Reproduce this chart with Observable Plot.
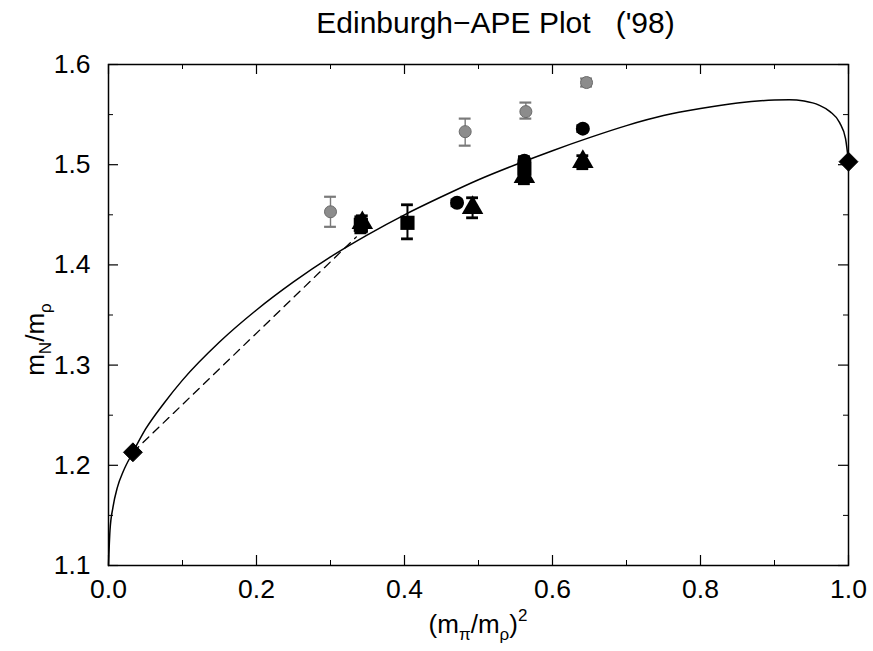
<!DOCTYPE html>
<html>
<head>
<meta charset="utf-8">
<script src="https://cdn.jsdelivr.net/npm/d3@7"></script>
<script src="https://cdn.jsdelivr.net/npm/@observablehq/plot@0.6"></script>
<style>
  body { margin: 0; background: #fff; font-family: "Liberation Sans", Arial, sans-serif; }
  #wrap { width: 873px; height: 651px; position: relative; }
  #title { height: 46px; width: 873px; box-sizing: border-box; padding-left: 118px; text-align: center;
           font-size: 30px; line-height: 46px; color: #000; white-space: pre; }
</style>
</head>
<body>
<div id="wrap">
  <div id="title">Edinburgh−APE Plot   ('98)</div>
  <div id="chart"></div>
</div>
<script>
// Fit curve (solid)
const curveX = [0, 0.002, 0.006, 0.012, 0.020, 0.033, 0.050, 0.075, 0.100, 0.150, 0.200, 0.250, 0.300, 0.350, 0.400, 0.450, 0.500, 0.550, 0.600, 0.650, 0.700, 0.750, 0.800, 0.850, 0.900, 0.920, 0.940, 0.960, 0.975, 0.988, 0.996, 1.0];
const curveY = [1.100, 1.135, 1.158, 1.178, 1.194, 1.213, 1.236, 1.262, 1.285, 1.323, 1.355, 1.383, 1.408, 1.430, 1.450, 1.468, 1.485, 1.500, 1.514, 1.527, 1.539, 1.549, 1.556, 1.5615, 1.5645, 1.5648, 1.5635, 1.5595, 1.553, 1.542, 1.526, 1.503];

// Dashed line
const dashX = [0.033, 0.335];
const dashY = [1.213, 1.428];

// Diamonds (physical point and heavy quark limit)
const diamondX = [0.033, 1.0];
const diamondY = [1.213, 1.503];

// Gray (hatched) points
const grayX  = [0.300, 0.482, 0.564, 0.646];
const grayY  = [1.453, 1.533, 1.553, 1.582];
const grayLo = [1.438, 1.519, 1.546, 1.578];
const grayHi = [1.468, 1.546, 1.562, 1.586];

// Black circles
const circX  = [0.471, 0.562, 0.641];
const circY  = [1.462, 1.504, 1.536];
const circLo = [1.459, 1.500, 1.533];
const circHi = [1.465, 1.508, 1.539];

// Black squares
const sqX  = [0.341, 0.404, 0.562];
const sqY  = [1.440, 1.442, 1.496];
const sqLo = [1.432, 1.426, 1.488];
const sqHi = [1.448, 1.460, 1.504];

// Black triangles
const triX  = [0.343, 0.492, 0.562, 0.641];
const triY  = [1.442, 1.457, 1.488, 1.503];
const triLo = [1.433, 1.447, 1.481, 1.496];
const triHi = [1.449, 1.467, 1.497, 1.509];

// Tick values
const xMajor = [0, 0.2, 0.4, 0.6, 0.8, 1.0];
const xMinor = [0.1, 0.3, 0.5, 0.7, 0.9];
const yMajor = [1.1, 1.2, 1.3, 1.4, 1.5, 1.6];
const yMinor = [1.15, 1.25, 1.35, 1.45, 1.55];

const zipPts = (xs, ys, lo, hi) => xs.map((x, i) => ({x, y: ys[i], lo: lo ? lo[i] : null, hi: hi ? hi[i] : null}));
const curve = zipPts(curveX, curveY);
const dash = zipPts(dashX, dashY);
const diamonds = zipPts(diamondX, diamondY);
const gray = zipPts(grayX, grayY, grayLo, grayHi);
const circ = zipPts(circX, circY, circLo, circHi);
const sq = zipPts(sqX, sqY, sqLo, sqHi);
const tri = zipPts(triX, triY, triLo, triHi);
const blackErr = [...sq, ...tri, ...circ];

const W = 873, H = 605;
const mL = 108, mR = 25, mT = 18, mB = 86;
const fw = W - mL - mR, fh = H - mT - mB;
const FONT = "'Liberation Sans', Arial, sans-serif";

const errMarks = (data, color, w, cap) => [
  Plot.ruleX(data, {x: "x", y1: "lo", y2: "hi", stroke: color, strokeWidth: w}),
  Plot.ruleY(data, {y: "lo", x1: d => d.x - cap, x2: d => d.x + cap, stroke: color, strokeWidth: w + 0.8}),
  Plot.ruleY(data, {y: "hi", x1: d => d.x - cap, x2: d => d.x + cap, stroke: color, strokeWidth: w + 0.8})
];

const chart = Plot.plot({
  width: W, height: H,
  marginLeft: mL, marginRight: mR, marginTop: mT, marginBottom: mB,
  style: {fontFamily: FONT, background: "#fff", color: "#000"},
  x: {domain: [0, 1]},
  y: {domain: [1.1, 1.6]},
  marks: [
    Plot.frame({stroke: "#000", strokeWidth: 1.5}),
    // inward ticks
    Plot.tickX(xMajor, {x: d => d, insetTop: fh - 10, stroke: "#000", strokeWidth: 1.2}),
    Plot.tickX(xMinor, {x: d => d, insetTop: fh - 5, stroke: "#000", strokeWidth: 1}),
    Plot.tickX(xMajor, {x: d => d, insetBottom: fh - 10, stroke: "#000", strokeWidth: 1.2}),
    Plot.tickX(xMinor, {x: d => d, insetBottom: fh - 5, stroke: "#000", strokeWidth: 1}),
    Plot.tickY(yMajor, {y: d => d, insetRight: fw - 10, stroke: "#000", strokeWidth: 1.2}),
    Plot.tickY(yMinor, {y: d => d, insetRight: fw - 5, stroke: "#000", strokeWidth: 1}),
    Plot.tickY(yMajor, {y: d => d, insetLeft: fw - 10, stroke: "#000", strokeWidth: 1.2}),
    Plot.tickY(yMinor, {y: d => d, insetLeft: fw - 5, stroke: "#000", strokeWidth: 1}),
    Plot.axisX(xMajor, {tickSize: 0, tickPadding: 14, tickFormat: d3.format(".1f"), fontSize: 26.5, label: null}),
    Plot.axisY(yMajor, {tickSize: 0, tickPadding: 18, tickFormat: d3.format(".1f"), fontSize: 26.5, label: null}),
    // curves
    Plot.line(curve, {x: "x", y: "y", curve: "monotone-x", stroke: "#000", strokeWidth: 1.5}),
    Plot.line(dash, {x: "x", y: "y", stroke: "#000", strokeWidth: 1.3, strokeDasharray: "8,6"}),
    // gray points
    ...errMarks(gray, "#7a7a7a", 1.4, 0.008),
    Plot.dot(gray, {x: "x", y: "y", r: 6, fill: "#8c8c8c", stroke: "#6a6a6a", strokeWidth: 1}),
    // black error bars
    ...errMarks(blackErr, "#000", 2, 0.008),
    Plot.dot(circ, {x: "x", y: "y", r: 7, fill: "#000", symbol: "circle"}),
    Plot.dot(sq, {x: "x", y: "y", r: 8, fill: "#000", symbol: "square"}),
    Plot.dot(tri, {x: "x", y: "y", r: 8, fill: "#000", symbol: "triangle"}),
    Plot.dot(diamonds, {x: "x", y: "y", r: 8.5, fill: "#000", symbol: "diamond2", stroke: "#000", strokeWidth: 1})
  ]
});
document.getElementById("chart").appendChild(chart);

// Axis labels with sub/superscripts
const svg = d3.select(chart);
const xl = svg.append("text").attr("x", mL + fw / 2).attr("y", H - 18)
  .attr("text-anchor", "middle").attr("font-size", 26).attr("fill", "#000")
  .attr("font-family", FONT);
xl.append("tspan").text("(m");
xl.append("tspan").text("π").attr("font-size", 17).attr("dy", 7);
xl.append("tspan").text("/m").attr("dy", -7);
xl.append("tspan").text("ρ").attr("font-size", 17).attr("dy", 7);
xl.append("tspan").text(")").attr("dy", -7);
xl.append("tspan").text("2").attr("font-size", 17).attr("dy", -12);

const yl = svg.append("text").attr("transform", `translate(44,${mT + fh * 0.55}) rotate(-90)`)
  .attr("text-anchor", "middle").attr("font-size", 26).attr("fill", "#000")
  .attr("font-family", FONT);
yl.append("tspan").text("m");
yl.append("tspan").text("N").attr("font-size", 17).attr("dy", 7);
yl.append("tspan").text("/m").attr("dy", -7);
yl.append("tspan").text("ρ").attr("font-size", 17).attr("dy", 7);
</script>
</body>
</html>
